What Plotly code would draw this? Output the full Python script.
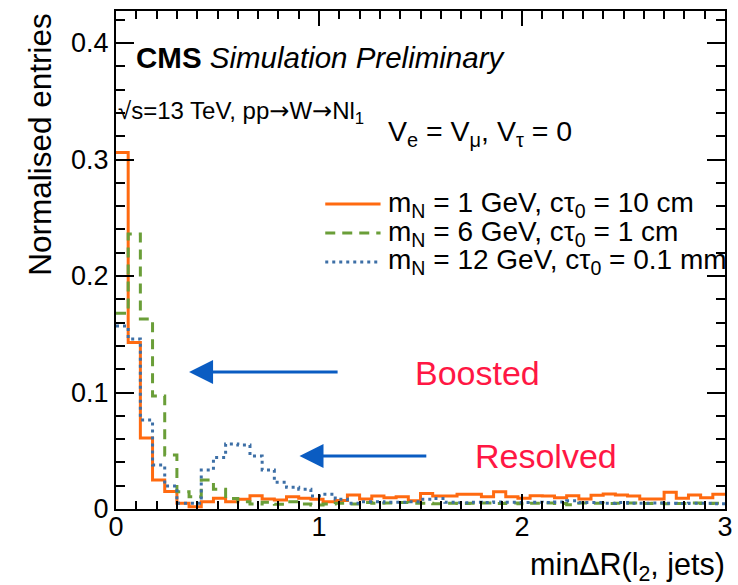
import plotly.graph_objects as go

# ---------------- data ----------------
bin_width = 0.06
n_bins = 50
bin_edges = [round(i * bin_width, 4) for i in range(n_bins + 1)]

# m_N = 1 GeV, ctau0 = 10 cm (orange, solid)
h_m1 = [0.306, 0.143, 0.061, 0.025, 0.015, 0.005, 0.002, 0.0063, 0.0092, 0.0063,
        0.0083, 0.0114, 0.0086, 0.0077, 0.0106, 0.0092, 0.0083, 0.0063, 0.0072, 0.0120,
        0.0086, 0.0111, 0.0097, 0.0106, 0.0071, 0.0134, 0.0111, 0.0111, 0.0126, 0.0126,
        0.0106, 0.0149, 0.0106, 0.0092, 0.0114, 0.0111, 0.0097, 0.0114, 0.0086, 0.0117,
        0.0129, 0.0120, 0.0111, 0.0086, 0.0086, 0.0143, 0.0092, 0.0120, 0.0097, 0.0126]

# m_N = 6 GeV, ctau0 = 1 cm (green, dashed)
h_m6 = [0.168, 0.236, 0.163, 0.097, 0.0464, 0.0149, 0.0106, 0.0249, 0.0169, 0.0090,
        0.0063, 0.0043, 0.0057, 0.0040, 0.0063, 0.0043, 0.0034, 0.0043, 0.0049, 0.0043,
        0.0055, 0.0050, 0.0052, 0.0055, 0.0050, 0.0050, 0.0045, 0.0050, 0.0048, 0.0050,
        0.0052, 0.0047, 0.0052, 0.0045, 0.0050, 0.0052, 0.0048, 0.0037, 0.0052, 0.0050,
        0.0048, 0.0050, 0.0052, 0.0047, 0.0050, 0.0045, 0.0048, 0.0052, 0.0047, 0.0050]

# m_N = 12 GeV, ctau0 = 0.1 mm (blue, dotted)
h_m12 = [0.157, 0.146, 0.0764, 0.0378, 0.0197, 0.0050, 0.0050, 0.0335, 0.0443, 0.0557,
         0.0549, 0.0455, 0.0335, 0.0229, 0.0186, 0.0169, 0.0112, 0.0126, 0.0083, 0.0050,
         0.0063, 0.0063, 0.0057, 0.0057, 0.0063, 0.0083, 0.0090, 0.0057, 0.0054, 0.0057,
         0.0055, 0.0060, 0.0057, 0.0055, 0.0058, 0.0055, 0.0060, 0.0070, 0.0055, 0.0055,
         0.0050, 0.0055, 0.0050, 0.0050, 0.0052, 0.0050, 0.0048, 0.0050, 0.0050, 0.0045]

series_names = ["m<sub>N</sub> = 1 GeV, cτ<sub>0</sub> = 10 cm",
                "m<sub>N</sub> = 6 GeV, cτ<sub>0</sub> = 1 cm",
                "m<sub>N</sub> = 12 GeV, cτ<sub>0</sub> = 0.1 mm"]
series_values = [h_m1, h_m6, h_m12]
series_colors = ["#ff6a10", "#6a9e38", "#3d6fa6"]
series_dash = ["solid", "10px,7px", "3px,4px"]

x_ticks = [0, 1, 2, 3]
y_ticks = [0, 0.1, 0.2, 0.3, 0.4]
x_range = [0, 3]
y_range = [0, 0.4275]

FONT = "Liberation Sans, Arial, Helvetica, sans-serif"

fig = go.Figure()
for name, vals, col, dash in zip(series_names, series_values, series_colors, series_dash):
    fig.add_trace(go.Scatter(
        x=bin_edges, y=vals + [vals[-1]], mode="lines", line_shape="hv",
        line=dict(color=col, width=3, dash=dash), name=name, showlegend=False,
    ))

# manual legend (ROOT style)
leg_x0, leg_x1, leg_tx = 0.3436, 0.4344, 0.4441
leg_y = [0.6124, 0.5542, 0.4960]
for name, col, dash, ly in zip(series_names, series_colors, series_dash, leg_y):
    fig.add_shape(type="line", xref="paper", yref="paper", x0=leg_x0, x1=leg_x1, y0=ly, y1=ly,
                  line=dict(color=col, width=3, dash=dash))
    fig.add_annotation(xref="paper", yref="paper", x=leg_tx, y=ly, xanchor="left", yanchor="middle",
                       text=name, showarrow=False, font=dict(family=FONT, size=28, color="black"))

# texts
ARR = "<span style='font-family:DejaVu Sans'>→</span>"
fig.add_annotation(xref="paper", yref="paper", x=0.029, y=0.9076, xanchor="left", yanchor="middle",
                   text="<b>CMS</b> <i>Simulation Preliminary</i>", showarrow=False,
                   font=dict(family=FONT, size=29.5, color="black"))
fig.add_annotation(xref="paper", yref="paper", x=0.0, y=0.797, xanchor="left", yanchor="middle",
                   text="√s=13 TeV, pp" + ARR + "W" + ARR + "Nl<sub>1</sub>", showarrow=False,
                   font=dict(family=FONT, size=24, color="black"))
fig.add_annotation(xref="paper", yref="paper", x=0.444, y=0.755, xanchor="left", yanchor="middle",
                   text="V<sub>e</sub> = V<sub>μ</sub>, V<sub>τ</sub> = 0", showarrow=False,
                   font=dict(family=FONT, size=28.5, color="black"))

# arrows
arrow_col = "#0a5cc2"
for (hx, hy, tx) in [(0.36, 0.1176, 1.099), (0.904, 0.0455, 1.536)]:
    fig.add_annotation(x=hx, y=hy, ax=tx, ay=hy, xref="x", yref="y", axref="x", ayref="y",
                       text="", showarrow=True, arrowhead=2, arrowsize=1.6, arrowwidth=3,
                       arrowcolor=arrow_col)

fig.add_annotation(x=1.78, y=0.117, xref="x", yref="y", text="Boosted", showarrow=False,
                   font=dict(family=FONT, size=34, color="#ff1744"))
fig.add_annotation(x=2.12, y=0.0455, xref="x", yref="y", text="Resolved", showarrow=False,
                   font=dict(family=FONT, size=34, color="#ff1744"))

# axis titles
fig.add_annotation(xref="paper", yref="paper", x=1.003, y=-0.115, xanchor="right", yanchor="middle",
                   text="minΔR(l<sub>2</sub>, jets)", showarrow=False,
                   font=dict(family=FONT, size=30.5, color="black"))
fig.add_annotation(xref="paper", yref="paper", x=-0.126, y=1.0, xanchor="center", yanchor="top",
                   text="Normalised entries", textangle=-90, showarrow=False,
                   font=dict(family=FONT, size=31.5, color="black"))

axis_common = dict(showline=True, linecolor="black", linewidth=2, mirror="ticks",
                   ticks="inside", tickcolor="black", tickwidth=2, showgrid=False, zeroline=False,
                   ticklabeloverflow="allow",
                   tickfont=dict(family=FONT, size=27, color="black"))
fig.update_xaxes(range=x_range, tickvals=x_ticks, ticklen=15, ticklabelstandoff=-7,
                 minor=dict(ticks="inside", ticklen=8, dtick=0.1, tickcolor="black", tickwidth=2,
                            showgrid=False),
                 **axis_common)
fig.update_yaxes(range=y_range, tickvals=y_ticks, ticklen=18,
                 minor=dict(ticks="inside", ticklen=9, dtick=0.02, tickcolor="black", tickwidth=2,
                            showgrid=False),
                 **axis_common)

fig.update_layout(width=738, height=585, margin=dict(l=116, r=5, t=11, b=76),
                  plot_bgcolor="white", paper_bgcolor="white", showlegend=False)

fig.write_html("out.html")
